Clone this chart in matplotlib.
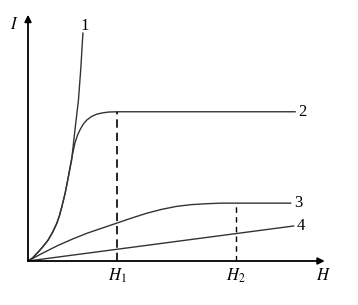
import numpy as np
from matplotlib import pyplot as plt

plt.rcParams['font.family'] = ['Liberation Serif', 'DejaVu Serif']
plt.rcParams['mathtext.fontset'] = 'stix'

# field strength H and current I
h1, h2 = 3.0, 7.0

# curves 1 and 2 share the same start
start_h = [0.0, 0.15, 0.35, 0.50, 0.68, 0.83, 0.97, 1.06, 1.14, 1.25, 1.36]
start_i = [0.0, 0.10, 0.31, 0.48, 0.71, 0.97, 1.27, 1.53, 1.83, 2.28, 2.84]

curve1_h = start_h + [1.47, 1.58, 1.70, 1.78, 1.85]
curve1_i = start_i + [3.40, 4.40, 5.43, 6.50, 7.68]

curve2_h = start_h + [1.42, 1.50, 1.58, 1.66, 1.75, 1.86, 1.98, 2.14, 2.32, 2.50, 2.71, 2.99, 4.0, 6.0, 9.0]
curve2_i = start_i + [3.18, 3.60, 3.97, 4.22, 4.42, 4.61, 4.75, 4.87, 4.95, 4.99, 5.02, 5.03, 5.03, 5.03, 5.03]

curve3_h = [0.0, 0.5, 1.0, 1.5, 2.0, 2.5, 3.0, 3.5, 4.0, 4.5, 5.0, 5.5, 6.0, 6.5, 7.03, 8.85]
curve3_i = [0.0, 0.27, 0.52, 0.74, 0.94, 1.11, 1.28, 1.45, 1.61, 1.74, 1.84, 1.90, 1.93, 1.95, 1.95, 1.95]

curve4_h = [0.0, 8.95]
curve4_i = [0.0, 1.18]

labels = ['1', '2', '3', '4']

fig = plt.figure(figsize=(3.58, 3.05), dpi=100)
ax = fig.add_axes([0, 0, 1, 1])
ax.set_xlim(-0.944, 11.12)
ax.set_ylim(-1.483, 8.797)
ax.axis('off')

line_col = '#333333'
for hs, js in [(curve1_h, curve1_i), (curve2_h, curve2_i), (curve3_h, curve3_i), (curve4_h, curve4_i)]:
    ax.plot(hs, js, color=line_col, lw=1.0, solid_joinstyle='round')

# dashed drop lines to H1 and H2
ax.plot([h1, h1], [0, curve2_i[-1]], color='black', lw=1.2, ls=(0, (5, 3)))
ax.plot([h2, h2], [0, curve3_i[-1]], color='black', lw=1.0, ls=(0, (4, 3)))

# axes with arrows
arrow = dict(arrowstyle='-|>', color='black', lw=1.3, mutation_scale=10, shrinkA=0, shrinkB=0)
ax.annotate('', xy=(10.0, 0), xytext=(0, 0), arrowprops=arrow)
ax.annotate('', xy=(0, 8.3), xytext=(0, 0), arrowprops=arrow)

fs = 12
ax.text(curve1_h[-1] + 0.05, curve1_i[-1] + 0.25, labels[0], fontsize=fs, ha='center', va='center')
ax.text(curve2_h[-1] + 0.25, curve2_i[-1], labels[1], fontsize=fs, ha='center', va='center')
ax.text(curve3_h[-1] + 0.27, curve3_i[-1], labels[2], fontsize=fs, ha='center', va='center')
ax.text(curve4_h[-1] + 0.25, curve4_i[-1], labels[3], fontsize=fs, ha='center', va='center')

ax.text(-0.47, 7.95, '$I$', fontsize=fs, ha='center', va='center')
ax.text(9.94, -0.51, '$H$', fontsize=fs, ha='center', va='center')
ax.text(h1, -0.51, '$H_1$', fontsize=fs, ha='center', va='center')
ax.text(h2, -0.51, '$H_2$', fontsize=fs, ha='center', va='center')

plt.savefig('out.png', dpi=100)
plt.close()
